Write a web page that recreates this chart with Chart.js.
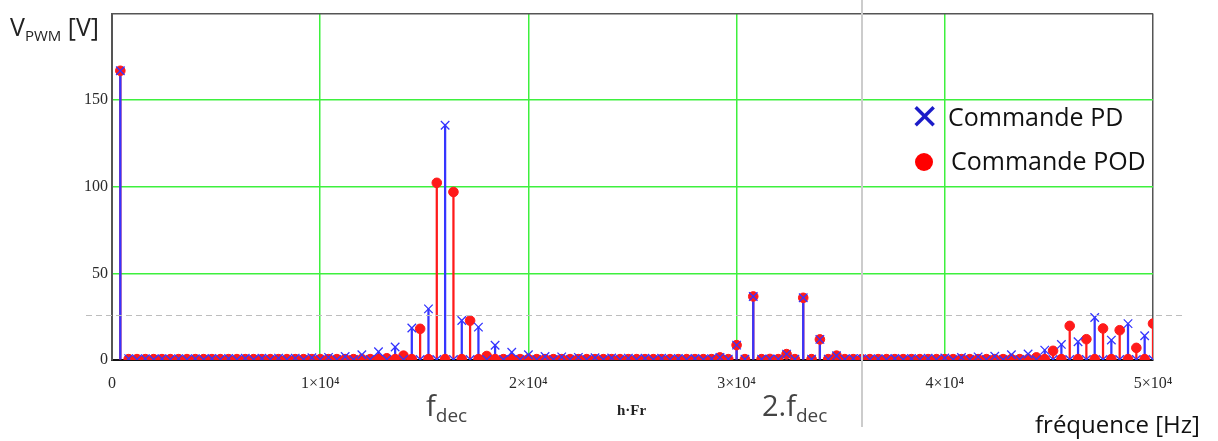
<!DOCTYPE html>
<html>
<head>
<meta charset="utf-8">
<script src="https://cdn.jsdelivr.net/npm/chart.js@4/dist/chart.umd.min.js"></script>
<style>
  body { margin:0; background:#fff; }
  #wrap { position:relative; width:1218px; height:441px; overflow:hidden; }
  #wrap canvas { position:absolute; left:0; top:0; }
  .lbl { position:absolute; white-space:nowrap; font-family:'Open Sans', sans-serif; line-height:1; }
  .lbl sub { font-size:.62em; vertical-align:-0.3em; }
</style>
</head>
<body>
<div id="wrap">
  <canvas id="chartSpec" width="1218" height="441"></canvas>
  <div class="lbl" style="left:10px;top:14px;font-size:25px;color:#222">V<sub style="font-size:15px">PWM</sub> [V]</div>
  <div class="lbl" style="left:426px;top:390px;font-size:29px;color:#444">f<sub style="font-size:19px">dec</sub></div>
  <div class="lbl" style="left:762px;top:390px;font-size:29px;color:#444">2.f<sub style="font-size:19px">dec</sub></div>
  <div class="lbl" style="left:617px;top:403px;font-size:15px;font-family:'Liberation Serif',serif;font-weight:bold;color:#222">h·Fr</div>
  <div class="lbl" style="left:1035px;top:412px;font-size:24px;color:#111">fréquence [Hz]</div>
  <div class="lbl" style="left:910px;top:100px;font-size:35px;color:#1c1cc8;font-family:'DejaVu Sans',sans-serif;font-weight:bold">✕</div>
  <div class="lbl" style="left:948px;top:104px;font-size:25px;color:#111">Commande PD</div>
  <div class="lbl" style="left:915px;top:153px;width:18px;height:18px;border-radius:50%;background:#ff0000"></div>
  <div class="lbl" style="left:951px;top:148px;font-size:25px;color:#111">Commande POD</div>
</div>
<script>
// ── Data: harmonic amplitudes (V) of h·Fr, h = 1..125 ──
const Fr        = 400;
const harmonics = Array.from({ length: 125 }, (_, i) => i + 1);

const ampPD = [
  167, 0.8, 0.3, 0.8, 0.3, 0.8, 0.3, 0.8, 0.3, 0.8,
  0.3, 0.9, 0.3, 0.9, 0.3, 1.0, 0.3, 1.0, 0.3, 1.1,
  0.3, 1.1, 0.3, 1.3, 0.3, 1.5, 0.3, 2.0, 0.3, 3.0,
  0.3, 4.8, 0.3, 7.5, 0.3, 18.5, 0.3, 29.5, 0.3, 135.5,
  0.3, 22.8, 0.3, 19.0, 0.3, 8.5, 0.3, 4.5, 0.3, 3.0,
  0.3, 2.0, 0.3, 1.8, 0.3, 1.5, 0.3, 1.3, 0.3, 1.2,
  0.3, 1.1, 0.3, 1.0, 0.3, 1.0, 0.3, 0.9, 0.3, 0.9,
  0.3, 0.8, 1.5, 0.5, 8.6, 0.5, 36.7, 0.5, 0.6, 0.5,
  3.4, 0.5, 35.9, 0.5, 11.9, 0.5, 2.5, 0.5, 0.8, 0.8,
  0.3, 0.8, 0.3, 0.9, 0.3, 0.9, 0.3, 1.0, 0.3, 1.2,
  0.3, 1.4, 0.3, 1.8, 0.3, 2.2, 0.3, 3.0, 0.3, 3.5,
  0.3, 5.7, 0.3, 9.0, 0.3, 10.5, 0.3, 24.5, 0.3, 11.5,
  0.3, 21.0, 0.3, 14.0, 0.3
];

const ampPOD = [
  167, 0.5, 0.5, 0.5, 0.5, 0.5, 0.5, 0.5, 0.5, 0.5,
  0.5, 0.5, 0.5, 0.5, 0.5, 0.5, 0.5, 0.5, 0.5, 0.5,
  0.5, 0.5, 0.5, 0.5, 0.5, 0.5, 0.5, 0.5, 0.5, 0.5,
  0.5, 0.5, 1.0, 0.5, 2.5, 0.5, 18.0, 0.5, 102.3, 0.5,
  97.0, 0.5, 22.7, 0.5, 2.3, 0.5, 0.5, 0.5, 0.5, 0.5,
  0.5, 0.5, 0.5, 0.5, 0.5, 0.5, 0.5, 0.5, 0.5, 0.5,
  0.5, 0.5, 0.5, 0.5, 0.5, 0.5, 0.5, 0.5, 0.5, 0.5,
  0.5, 0.5, 1.5, 0.5, 8.6, 0.5, 36.7, 0.5, 0.6, 0.5,
  3.4, 0.5, 35.9, 0.5, 11.9, 0.5, 2.5, 0.5, 0.5, 0.5,
  0.5, 0.5, 0.5, 0.5, 0.5, 0.5, 0.5, 0.5, 0.5, 0.5,
  0.5, 0.5, 0.5, 0.5, 0.5, 0.5, 0.5, 0.5, 0.5, 0.5,
  1.5, 0.5, 5.3, 0.5, 19.7, 0.5, 12.0, 0.5, 18.2, 0.5,
  17.2, 0.5, 7.0, 0.5, 21.0
];

const xTicks   = [0, 10000, 20000, 30000, 40000, 50000];
const yTicks   = [0, 50, 100, 150, 200];
const refLevel = 26;      // grey dashed guide
const refFreq  = 36000;   // grey vertical guide

// ── Build points ──
const ptsPD  = harmonics.map((h, i) => ({ x: h * Fr, y: ampPD[i] }));
const ptsPOD = harmonics.map((h, i) => ({ x: h * Fr, y: ampPOD[i] }));

const BLUE  = '#3535ff';
const RED   = '#ff1a1a';
const GREEN = '#3ef03e';

// ── Guide lines plugin ──
const guides = {
  id: 'guides',
  afterDraw(chart) {
    const { ctx, scales: { x, y } } = chart;
    ctx.save();
    ctx.strokeStyle = '#bdbdbd';
    ctx.lineWidth = 1;
    ctx.setLineDash([6, 4]);
    const yy = Math.round(y.getPixelForValue(refLevel)) + 0.5;
    ctx.beginPath(); ctx.moveTo(86, yy); ctx.lineTo(1183, yy); ctx.stroke();
    ctx.setLineDash([]);
    ctx.strokeStyle = '#cccccc';
    ctx.lineWidth = 2;
    const xx = Math.round(x.getPixelForValue(refFreq));
    ctx.beginPath(); ctx.moveTo(xx, 0); ctx.lineTo(xx, 427); ctx.stroke();
    ctx.restore();
  }
};

// ── Chart ──
const gridColor = (edgeLo, edgeHi) => c => {
  const v = c.tick.value;
  if (v === edgeLo) return 'rgba(0,0,0,0)';
  if (v === edgeHi) return '#555';
  return GREEN;
};

new Chart(document.getElementById('chartSpec').getContext('2d'), {
  type: 'bar',
  data: {
    datasets: [
      { type: 'scatter', label: 'Commande PD', data: ptsPD, order: 0, clip: 0,
        pointStyle: 'crossRot', pointRadius: 6, pointBorderWidth: 1.3,
        borderColor: BLUE, backgroundColor: BLUE },
      { type: 'scatter', label: 'Commande POD', data: ptsPOD, order: 1, clip: 0,
        pointStyle: 'circle', pointRadius: 4.8, pointBorderWidth: 1,
        borderColor: RED, backgroundColor: RED },
      { type: 'bar', data: ptsPD, order: 2, backgroundColor: BLUE,
        barThickness: 1.6, grouped: false },
      { type: 'bar', data: ptsPOD, order: 3, backgroundColor: RED,
        barThickness: 1.6, grouped: false }
    ]
  },
  options: {
    responsive: false,
    animation: false,
    layout: { padding: { left: 0, top: 11, right: 65, bottom: 0 } },
    plugins: { legend: { display: false }, tooltip: { enabled: false } },
    scales: {
      x: {
        type: 'linear', min: 0, max: 50000, offset: false,
        afterBuildTicks: s => { s.ticks = xTicks.map(v => ({ value: v })); },
        afterFit: s => { s.height = 81; },
        grid: { offset: false, color: gridColor(0, 50000), lineWidth: 1.5, drawTicks: false },
        border: { color: '#111', width: 2 },
        ticks: {
          padding: 14, color: '#2a2a2a', maxRotation: 0,
          font: { family: 'Liberation Serif', size: 16 },
          callback: v => v === 0 ? '0' : (v / 10000) + '×10⁴'
        }
      },
      y: {
        min: 0, max: 200,
        afterBuildTicks: s => { s.ticks = yTicks.map(v => ({ value: v })); },
        afterFit: s => { s.width = 112; },
        grid: { color: gridColor(0, 200), lineWidth: 1.5, drawTicks: false },
        border: { color: '#555', width: 2 },
        ticks: {
          padding: 4, color: '#2a2a2a',
          font: { family: 'Liberation Serif', size: 16 },
          callback: v => v === 200 ? '' : v
        }
      }
    }
  },
  plugins: [guides]
});
</script>
</body>
</html>
